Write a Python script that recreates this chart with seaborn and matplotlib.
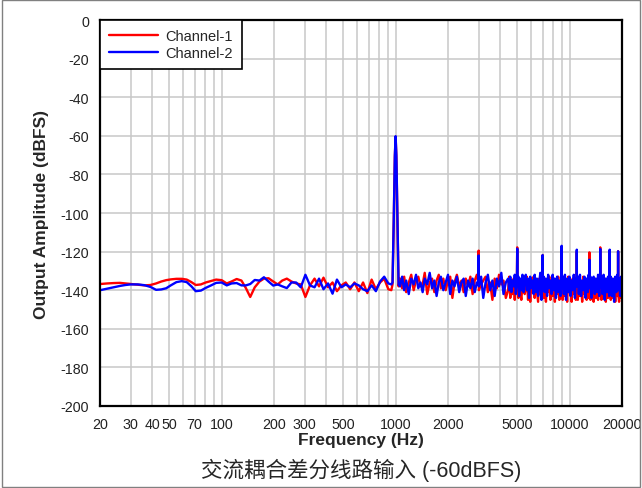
import numpy as np
import pandas as pd
import seaborn as sns
import matplotlib.pyplot as plt
from matplotlib.ticker import FixedLocator, FixedFormatter, LogLocator, NullFormatter
from matplotlib.patches import Rectangle

# frequency grid (Hz): smooth low band, the 1 kHz tone, then the noisy upper band
freq_low = [20, 22, 24, 26, 28, 30, 33, 36, 39, 42, 45, 48, 51, 55, 59, 63, 67, 71, 76, 81,
            87, 93, 100, 107, 114, 122, 130, 138, 146, 155, 165, 175, 186, 198, 210, 223, 237, 252, 268, 285,
            303, 322, 342, 363, 385, 409, 434, 460, 488, 517, 548, 580, 614, 650, 688, 728, 770, 814, 860, 908,
            945]
freq_tone = [960, 975, 990, 1000, 1010, 1025, 1040]
freq_high = [1060, 1090, 1120, 1150, 1190, 1230, 1270, 1310, 1350, 1390,
             1430, 1470, 1520, 1570, 1620, 1670, 1720, 1770, 1820, 1880,
             1940, 2000, 2060, 2120, 2180, 2250, 2320, 2390, 2460, 2530,
             2610, 2690, 2770, 2850, 2930, 2990, 3000, 3010, 3100, 3190,
             3290, 3390, 3490, 3600, 3710, 3820, 3930, 4050, 4170, 4300,
             4430, 4500, 4560, 4630, 4700, 4770, 4840, 4910, 4980, 5000, 5020, 5080, 5130, 5200, 5280, 5360, 5440, 5520,
             5600, 5680, 5770, 5850, 5940, 6030, 6120, 6210, 6300, 6400, 6490, 6590, 6690, 6790, 6890, 6990, 7000,
             7010, 7100, 7200, 7310, 7420, 7530, 7640, 7760, 7870, 7990, 8110, 8230, 8350, 8480, 8600, 8730, 8860, 8990,
             9000, 9010, 9130, 9260, 9400, 9540, 9680, 9830, 9970, 10120, 10270, 10420, 10570, 10730, 10860, 10990, 11000,
             11010, 11150, 11300, 11470, 11640, 11810, 11990, 12170, 12350, 12530, 12720, 12860, 12990, 13000, 13010, 13180, 13350,
             13550, 13750, 13950, 14160, 14370, 14580, 14790, 14990, 15000, 15010, 15230, 15450, 15680, 15910, 16150, 16390, 16630, 16880,
             16990, 17000, 17010, 17250, 17500, 17760, 18030, 18300, 18570, 18800, 18990, 19000, 19010, 19250, 19500, 19750,
             20000]

ch1_low = [-136.8, -136.5, -136.3, -136.2, -136.5, -136.8, -137.2, -137.5, -137.3, -136.5,
           -135.5, -134.8, -134.4, -134.1, -134.1, -134.5, -135.8, -137.3, -137.0, -136.0,
           -135.2, -134.5, -134.8, -136.5, -135.5, -134.2, -135.0, -139.0, -143.5, -138.5,
           -135.5, -134.0, -133.8, -135.5, -137.0, -135.0, -134.0, -135.5, -136.5, -137.0,
           -143.5, -137.5, -134.0, -138.0, -133.5, -138.5, -136.0, -140.5, -137.5, -136.0,
           -139.5, -136.0, -140.5, -136.0, -141.5, -134.5, -139.5, -136.0, -134.0, -139.5,
           -140.0]
ch2_low = [-140.0, -139.2, -138.5, -137.8, -137.3, -137.0, -137.0, -137.4, -138.3, -139.8,
           -139.6, -139.0, -137.5, -135.8, -135.3, -135.8, -138.0, -140.5, -140.2, -138.8,
           -137.5, -136.2, -136.0, -137.5, -136.5, -136.3, -137.5, -137.5, -136.8, -134.7,
           -135.0, -133.3, -135.5, -137.6, -137.0, -138.0, -138.9, -136.0, -136.0, -138.5,
           -132.0, -137.5, -138.5, -134.0, -139.5, -136.5, -141.8, -134.5, -138.5, -137.0,
           -138.5, -136.5, -137.5, -139.5, -140.5, -137.5, -140.5, -135.5, -133.0, -136.5,
           -137.0]

ch1_tone = [-137, -106, -71, -60.5, -71, -106, -138]
ch2_tone = [-136, -105, -70, -60.2, -70, -105, -137]

ch1_high = [-134, -139, -133, -141, -136, -132, -140, -135, -133, -138,
            -137, -131, -142, -136, -134, -141, -135, -132, -139, -134,
            -140, -135, -133, -144, -136, -132, -138, -135, -141, -134,
            -138, -133, -142, -135, -132, -136, -119.5, -140, -137, -135,
            -133, -141, -136, -145, -134, -139, -132, -137, -135, -144,
            -140, -133, -144, -136, -142, -134, -145, -135, -134, -117.8, -139, -144, -134, -141, -145, -136, -133, -142,
            -139, -133, -145, -136, -146, -134, -141, -133, -144, -135, -140, -146, -134, -142, -135, -136, -121.8,
            -137, -144, -134, -146, -136, -141, -133, -145, -135, -143, -134, -146, -135, -142, -133, -145, -136, -140,
            -121, -138, -145, -134, -143, -136, -146, -133, -141, -135, -146, -134, -142, -136, -145, -135, -120,
            -137, -145, -134, -143, -136, -146, -133, -142, -135, -145, -134, -144, -135, -120.4, -138, -145, -134,
            -141, -146, -134, -144, -136, -145, -134, -135, -117.8, -137, -145, -135, -143, -134, -146, -135, -144, -136,
            -135, -121, -137, -145, -134, -144, -136, -146, -134, -143, -136, -119.8, -141, -146, -135, -144,
            -136]
ch2_high = [-138, -133, -140, -135, -142, -134, -137, -132, -139, -136,
            -141, -134, -137, -131, -139, -135, -143, -136, -133, -140,
            -136, -132, -142, -135, -138, -133, -141, -136, -134, -143,
            -135, -139, -134, -141, -136, -137, -122, -138, -133, -144,
            -136, -132, -140, -135, -143, -134, -138, -131, -142, -136,
            -134, -140, -133, -141, -135, -138, -132, -142, -136, -118.5, -137, -133, -143, -134, -140, -132, -141, -135,
            -132, -140, -134, -144, -133, -139, -135, -142, -132, -141, -134, -143, -136, -131, -145, -137, -121.8,
            -138, -133, -141, -134, -143, -132, -139, -135, -142, -132, -140, -134, -144, -133, -141, -135, -143, -134,
            -117, -139, -133, -142, -132, -145, -134, -141, -133, -143, -135, -140, -132, -144, -134, -137, -119,
            -138, -133, -142, -132, -143, -135, -140, -133, -144, -134, -141, -132, -137, -124.2, -139, -133, -144,
            -135, -133, -142, -134, -141, -132, -143, -136, -118.6, -138, -133, -142, -132, -145, -134, -141, -133, -143,
            -136, -119, -138, -133, -143, -134, -146, -133, -141, -132, -137, -119.8, -140, -134, -143, -133,
            -139]

x_ticks = [20, 30, 40, 50, 70, 100, 200, 300, 500, 1000, 2000, 5000, 10000, 20000]
y_ticks = [0, -20, -40, -60, -80, -100, -120, -140, -160, -180, -200]

freq = freq_low + freq_tone + freq_high
df = pd.concat([
    pd.DataFrame({"Frequency": freq, "Amplitude": ch1_low + ch1_tone + ch1_high, "Channel": "Channel-1"}),
    pd.DataFrame({"Frequency": freq, "Amplitude": ch2_low + ch2_tone + ch2_high, "Channel": "Channel-2"}),
])

sns.set_style("white")
plt.rcParams["font.family"] = ["Liberation Sans", "Noto Sans CJK SC", "DejaVu Sans"]
plt.rcParams["axes.unicode_minus"] = False

fig = plt.figure(figsize=(6.42, 4.89), dpi=100)
ax = fig.add_axes([0.1558, 0.1677, 0.813, 0.7893])

sns.lineplot(data=df, x="Frequency", y="Amplitude", hue="Channel", estimator=None,
             palette={"Channel-1": "#ff0000", "Channel-2": "#0000ff"},
             linewidth=1.7, ax=ax)

ax.set_xscale("log")
ax.set_xlim(20, 20000)
ax.set_ylim(-200, 0)
ax.xaxis.set_major_locator(FixedLocator(x_ticks))
ax.xaxis.set_major_formatter(FixedFormatter([str(t) for t in x_ticks]))
ax.xaxis.set_minor_locator(LogLocator(base=10, subs=np.arange(1, 10)))
ax.xaxis.set_minor_formatter(NullFormatter())
ax.set_yticks(y_ticks)
ax.set_yticklabels([str(t) for t in y_ticks])
ax.tick_params(axis="both", which="both", length=0, labelsize=10.3, colors="#222222")
ax.tick_params(axis="x", pad=8)
ax.tick_params(axis="y", pad=8)

ax.grid(True, axis="x", which="both", color="#c8c8c8", linewidth=1.1)
ax.grid(True, axis="y", which="major", color="#c8c8c8", linewidth=1.1)
ax.set_axisbelow(True)
for s in ax.spines.values():
    s.set_color("black")
    s.set_linewidth(1.6)

ax.set_xlabel("Frequency (Hz)", fontsize=12.5, fontweight="bold", labelpad=1)
ax.set_ylabel("Output Amplitude (dBFS)", fontsize=12.5, fontweight="bold", labelpad=8)

leg = ax.legend(loc="upper left", bbox_to_anchor=(0, 1), borderaxespad=0, fancybox=False,
                framealpha=1, edgecolor="black", fontsize=10.5, handlelength=3.4,
                borderpad=0.6, labelspacing=0.25, handletextpad=0.5)
leg.get_frame().set_linewidth(1.2)
leg.set_title(None)

# caption sits centred under the plot area
fig.text(0.5 * (0.1558 + 0.9688), 0.039, "交流耦合差分线路输入 (-60dBFS)",
         ha="center", va="center", fontsize=15.5)
fig.patches.append(Rectangle((0.003, 0.003), 0.994, 0.994, transform=fig.transFigure,
                             fill=False, edgecolor="#808080", linewidth=1))

fig.savefig("out.png", dpi=100)
